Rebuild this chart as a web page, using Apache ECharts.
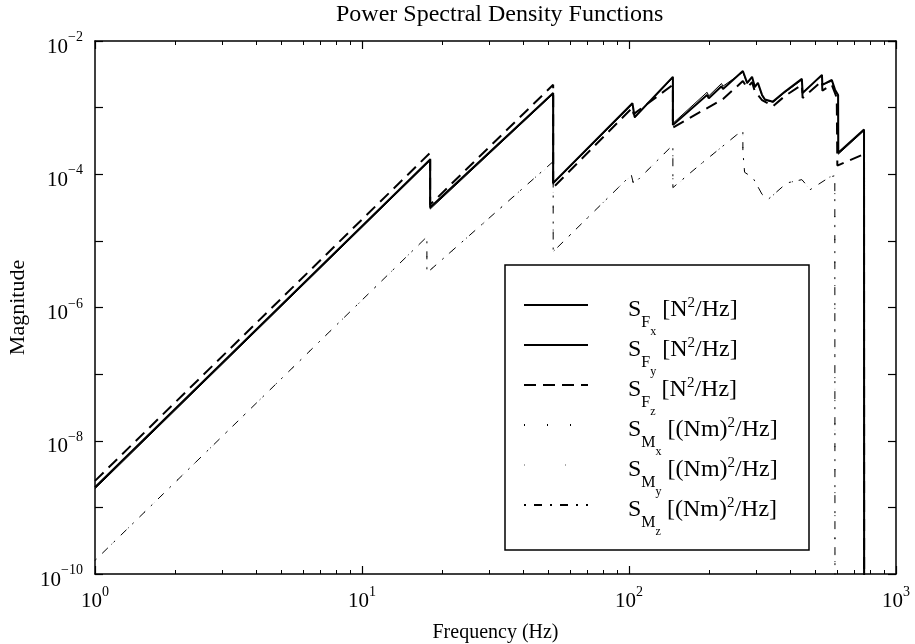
<!DOCTYPE html>
<html><head><meta charset="utf-8">
<script src="https://cdn.jsdelivr.net/npm/echarts@6/dist/echarts.min.js"></script>
<style>html,body{margin:0;padding:0;background:#fff}#c{width:915px;height:644px}</style>
</head><body><div id="c"></div>
<script>
// ---- data (frequency in Hz, PSD magnitude) ----
const fxFreq = [1, 18, 18, 52, 52, 103, 105, 146, 146, 196, 199, 222, 225, 267, 277, 289, 296, 304, 315, 323, 346, 384, 444, 447, 528, 530, 575, 591, 607, 608, 759, 760];
const fxVal  = [1.9e-9, 1.6e-4, 3.0e-5, 1.6e-3, 7.2e-5, 1.12e-3, 7.0e-4, 2.8e-3, 5.8e-4, 1.7e-3, 1.5e-3, 2.3e-3, 2.1e-3, 3.4e-3, 2.3e-3, 2.8e-3, 2.0e-3, 2.3e-3, 1.5e-3, 1.3e-3, 1.2e-3, 1.7e-3, 2.6e-3, 1.7e-3, 3.0e-3, 2.2e-3, 2.5e-3, 1.8e-3, 1.5e-3, 2.0e-4, 4.5e-4, 1e-12];

const fyFreq = [1, 18, 18, 52, 52, 103, 105, 146, 146, 196, 199, 222, 225, 267, 277, 289, 296, 304, 315, 323, 346, 384, 444, 447, 528, 530, 575, 591, 607, 608, 759, 760];
const fyVal  = [2.0e-9, 1.66e-4, 3.16e-5, 1.66e-3, 7.4e-5, 1.17e-3, 7.2e-4, 2.9e-3, 5.5e-4, 1.55e-3, 1.38e-3, 2.1e-3, 1.9e-3, 3.55e-3, 2.35e-3, 2.9e-3, 2.05e-3, 2.35e-3, 1.55e-3, 1.32e-3, 1.23e-3, 1.74e-3, 2.7e-3, 1.66e-3, 3.1e-3, 2.2e-3, 2.6e-3, 1.86e-3, 1.55e-3, 2.1e-4, 4.7e-4, 1e-12];

const fzFreq = [1, 18, 18, 52, 52, 103, 104, 146, 146, 225, 267, 277, 289, 296, 315, 346, 384, 444, 447, 528, 530, 575, 600, 603, 759, 760];
const fzVal  = [2.5e-9, 2.1e-4, 3.5e-5, 2.2e-3, 6.3e-5, 1.0e-3, 8.0e-4, 2.2e-3, 5.0e-4, 1.35e-3, 2.5e-3, 2.0e-3, 2.4e-3, 1.75e-3, 1.3e-3, 1.05e-3, 1.5e-3, 2.2e-3, 1.4e-3, 2.5e-3, 1.8e-3, 2.2e-3, 1.4e-3, 1.35e-4, 2.0e-4, 1e-12];

const mxFreq = [1, 17.5, 17.5, 52, 52, 102, 104, 146, 146, 184, 253, 267, 267, 271, 291, 315, 332, 390, 444, 478, 565, 590, 591];
const mxVal  = [1.6e-10, 1.15e-5, 3.3e-6, 1.55e-4, 6.9e-6, 9.8e-5, 7.1e-5, 2.75e-4, 6.3e-5, 1.38e-4, 3.9e-4, 4.4e-4, 2.2e-4, 1.07e-4, 8.9e-5, 5.0e-5, 4.2e-5, 7.4e-5, 8.3e-5, 5.9e-5, 9.1e-5, 9.5e-5, 1e-12];

const myFreq = [1, 17.5, 17.5, 52, 52, 102, 104, 146, 146, 184, 253, 267, 267, 271, 291, 315, 332, 390, 444, 478, 565, 590, 591];
const myVal  = [1.6e-10, 1.12e-5, 3.2e-6, 1.5e-4, 6.8e-6, 9.6e-5, 7.0e-5, 2.7e-4, 6.2e-5, 1.36e-4, 3.8e-4, 4.3e-4, 2.1e-4, 1.05e-4, 8.7e-5, 4.9e-5, 4.1e-5, 7.2e-5, 8.1e-5, 5.8e-5, 8.9e-5, 9.3e-5, 1e-12];

const mzFreq = [1, 17.5, 17.5, 52, 52, 102, 104, 146, 146, 184, 253, 267, 267, 271, 291, 315, 332, 390, 444, 478, 565, 590, 591];
const mzVal  = [1.6e-10, 1.15e-5, 3.3e-6, 1.55e-4, 6.9e-6, 9.8e-5, 7.1e-5, 2.75e-4, 6.3e-5, 1.38e-4, 3.9e-4, 4.4e-4, 2.2e-4, 1.07e-4, 8.9e-5, 5.0e-5, 4.2e-5, 7.4e-5, 8.3e-5, 5.9e-5, 9.1e-5, 9.5e-5, 1e-12];

const seriesNames = ['SFx', 'SFy', 'SFz', 'SMx', 'SMy', 'SMz'];
const legendLabels = {
  SFx: ['F', 'x', ' [N', '2', '/Hz]'],
  SFy: ['F', 'y', ' [N', '2', '/Hz]'],
  SFz: ['F', 'z', ' [N', '2', '/Hz]'],
  SMx: ['M', 'x', ' [(Nm)', '2', '/Hz]'],
  SMy: ['M', 'y', ' [(Nm)', '2', '/Hz]'],
  SMz: ['M', 'z', ' [(Nm)', '2', '/Hz]']
};
const yLabelExponents = [-10, -8, -6, -4, -2];
const titleText = 'Power Spectral Density Functions';
const xName = 'Frequency (Hz)';
const yName = 'Magnitude';

// ---- chart ----
const FONT = '"Liberation Serif", "Times New Roman", serif';
const zip = (f, v) => f.map((x, i) => [x, v[i]]);
const supText = e => '{b|10}{e|' + String(e).replace('-', '\u2212') + '}';
const xFmt = v => supText(Math.round(Math.log10(v)));
const yFmt = v => {
  const e = Math.round(Math.log10(v));
  return yLabelExponents.indexOf(e) >= 0 ? supText(e) : '';
};
const tickRich = {
  b: { fontFamily: FONT, fontSize: 21, lineHeight: 21, color: '#000', padding: [6, 0, 6, 0], verticalAlign: 'top' },
  e: { fontFamily: FONT, fontSize: 14, lineHeight: 14, color: '#000', verticalAlign: 'top' }
};

const chart = echarts.init(document.getElementById('c'), null, { renderer: 'canvas' });
const lineBase = { type: 'line', showSymbol: false, symbol: 'none', animation: false, clip: true, xAxisIndex: 0, yAxisIndex: 0 };

chart.setOption({
  backgroundColor: '#fff',
  animation: false,
  title: {
    text: titleText, left: 336, top: 0, padding: [3, 0, 0, 0],
    textStyle: { fontFamily: FONT, fontSize: 24, fontWeight: 'normal', color: '#000' }
  },
  grid: { left: 95, right: 19, top: 41, bottom: 70, show: false, containLabel: false, outerBoundsMode: 'none' },
  legend: {
    data: seriesNames, orient: 'vertical', left: 523, top: 293, padding: 0,
    itemWidth: 64, itemHeight: 14, itemGap: -5, selectedMode: false,
    itemStyle: { opacity: 0, borderWidth: 0 },
    formatter: name => {
      const p = legendLabels[name];
      return '{s|S}{f|' + p[0] + '}{sb|' + p[1] + '}{t|' + p[2] + '}{sp|' + p[3] + '}{t|' + p[4] + '}';
    },
    textStyle: {
      fontFamily: FONT, color: '#000',
      rich: {
        s: { fontFamily: FONT, fontSize: 24, lineHeight: 24, padding: [5, 0, 0, 35], verticalAlign: 'top', color: '#000' },
        f: { fontFamily: FONT, fontSize: 16, lineHeight: 16, padding: [21.5, 0, 0, 0], verticalAlign: 'top', color: '#000' },
        sb: { fontFamily: FONT, fontSize: 12, lineHeight: 12, padding: [33, 0, 0, 0], verticalAlign: 'top', color: '#000' },
        t: { fontFamily: FONT, fontSize: 24, lineHeight: 24, padding: [5, 0, 0, 0], verticalAlign: 'top', color: '#000' },
        sp: { fontFamily: FONT, fontSize: 15, lineHeight: 15, padding: [3, 0, 0, 0], verticalAlign: 'top', color: '#000' }
      }
    }
  },
  graphic: [{
    type: 'rect', shape: { x: 505, y: 265, width: 304, height: 285 },
    style: { fill: 'rgba(0,0,0,0)', stroke: '#000', lineWidth: 1.5 }, z: 100, silent: true
  }],
  xAxis: [{
    type: 'log', logBase: 10, min: 1, max: 1000, interval: 1, position: 'bottom',
    name: xName, nameLocation: 'middle', nameGap: 48,
    nameTextStyle: { fontFamily: FONT, fontSize: 20, color: '#000' },
    axisLine: { show: true, lineStyle: { color: '#000', width: 1.5 } },
    axisTick: { show: true, inside: true, length: 8, lineStyle: { color: '#000', width: 1.2 } },
    minorTick: { show: true, splitNumber: 9, length: 4, lineStyle: { color: '#000', width: 1 } },
    axisLabel: { formatter: xFmt, rich: tickRich, margin: 11 },
    splitLine: { show: false }, minorSplitLine: { show: false }
  }, {
    type: 'log', logBase: 10, min: 1, max: 1000, interval: 1, position: 'top',
    axisLine: { show: true, lineStyle: { color: '#000', width: 1.5 } },
    axisTick: { show: true, inside: true, length: 8, lineStyle: { color: '#000', width: 1.2 } },
    minorTick: { show: true, splitNumber: 9, length: 4, lineStyle: { color: '#000', width: 1 } },
    axisLabel: { show: false }, splitLine: { show: false }
  }],
  yAxis: [{
    type: 'log', logBase: 10, min: 1e-10, max: 1e-2, interval: 1, position: 'left',
    name: yName, nameLocation: 'middle', nameGap: 50,
    nameTextStyle: { fontFamily: FONT, fontSize: 22, color: '#000' },
    axisLine: { show: true, lineStyle: { color: '#000', width: 1.5 } },
    axisTick: { show: true, inside: true, length: 8, lineStyle: { color: '#000', width: 1.2 } },
    axisLabel: { formatter: yFmt, rich: tickRich, margin: 12 },
    splitLine: { show: false }
  }, {
    type: 'log', logBase: 10, min: 1e-10, max: 1e-2, interval: 1, position: 'right',
    axisLine: { show: true, lineStyle: { color: '#000', width: 1.5 } },
    axisTick: { show: true, inside: true, length: 8, lineStyle: { color: '#000', width: 1.2 } },
    axisLabel: { show: false }, splitLine: { show: false }
  }],
  series: [
    Object.assign({}, lineBase, { name: 'SFx', data: zip(fxFreq, fxVal), lineStyle: { color: '#000', width: 1, type: 'solid' }, itemStyle: { color: '#000' }, z: 5 }),
    Object.assign({}, lineBase, { name: 'SFy', data: zip(fyFreq, fyVal), lineStyle: { color: '#000', width: 2, type: 'solid' }, itemStyle: { color: '#000' }, z: 6 }),
    Object.assign({}, lineBase, { name: 'SFz', data: zip(fzFreq, fzVal), lineStyle: { color: '#000', width: 2, type: [12, 7] }, itemStyle: { color: '#000' }, z: 4 }),
    Object.assign({}, lineBase, { name: 'SMx', data: zip(mxFreq, mxVal), lineStyle: { color: '#000', width: 1, type: [1, 22] }, itemStyle: { color: '#000' }, z: 3 }),
    Object.assign({}, lineBase, { name: 'SMy', data: zip(myFreq, myVal), lineStyle: { color: '#aaa', width: 0.6, type: [1, 40] }, itemStyle: { color: '#aaa' }, z: 2 }),
    Object.assign({}, lineBase, { name: 'SMz', data: zip(mzFreq, mzVal), lineStyle: { color: '#000', width: 1, type: [2, 8, 8, 8] }, itemStyle: { color: '#000' }, z: 3 })
  ]
});
</script></body></html>
